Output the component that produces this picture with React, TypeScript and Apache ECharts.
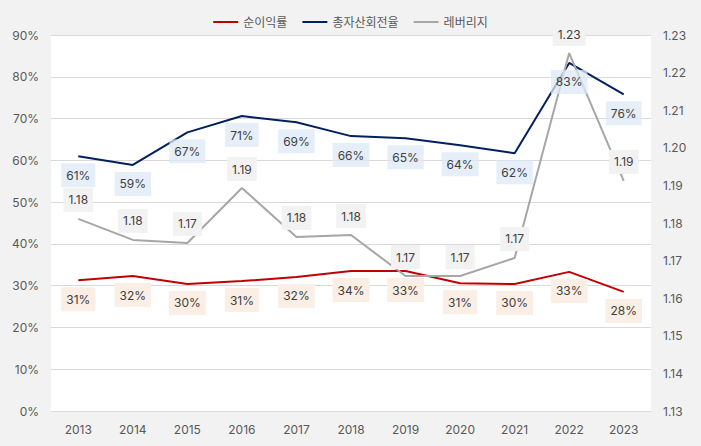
import React, { useEffect, useRef } from "react";
import * as echarts from "echarts";

const years = ["2013", "2014", "2015", "2016", "2017", "2018", "2019", "2020", "2021", "2022", "2023"];
const netMargin = [31.3, 32.3, 30.4, 31.1, 32.1, 33.5, 33.5, 30.6, 30.4, 33.3, 28.5];
const netMarginLabels = ["31%", "32%", "30%", "31%", "32%", "34%", "33%", "31%", "30%", "33%", "28%"];
const assetTurnover = [61.0, 58.9, 66.7, 70.6, 69.1, 65.8, 65.3, 63.6, 61.7, 83.3, 75.8];
const assetTurnoverLabels = ["61%", "59%", "67%", "71%", "69%", "66%", "65%", "64%", "62%", "83%", "76%"];
const leverage = [1.1811, 1.1755, 1.1747, 1.1893, 1.1763, 1.1768, 1.1659, 1.1659, 1.1707, 1.2252, 1.1912];
const leverageLabels = ["1.18", "1.18", "1.17", "1.19", "1.18", "1.18", "1.17", "1.17", "1.17", "1.23", "1.19"];

const FONT = "Inter, 'Noto Sans CJK KR', sans-serif";

export default function App() {
  const ref = useRef<HTMLDivElement>(null);
  useEffect(() => {
    if (!ref.current) return;
    const chart = echarts.init(ref.current, null, { renderer: "svg" });
    const labelBase = {
      show: true,
      fontSize: 12,
      lineHeight: 14,
      color: "#404040",
      fontFamily: FONT,
      padding: [5, 5],
      distance: 7,
    };
    chart.setOption({
      animation: false,
      backgroundColor: "#f2f2f2",
      textStyle: { fontFamily: FONT },
      legend: {
        top: 11,
        left: "center",
        itemWidth: 25,
        itemHeight: 2,
        itemGap: 15,
        icon: "rect",
        textStyle: { fontSize: 12, color: "#595959", fontFamily: FONT },
        data: ["순이익률", "총자산회전율", "레버리지"],
      },
      grid: {
        left: 51,
        right: 50,
        top: 35,
        bottom: 35,
        show: true,
        backgroundColor: "#ffffff",
        borderWidth: 0,
      },
      xAxis: {
        type: "category",
        data: years,
        boundaryGap: true,
        axisLine: { show: false },
        axisTick: { show: false },
        axisLabel: { color: "#595959", fontSize: 12, margin: 12, fontFamily: FONT },
      },
      yAxis: [
        {
          type: "value",
          min: 0,
          max: 90,
          interval: 10,
          axisLine: { show: false },
          axisTick: { show: false },
          axisLabel: { formatter: "{value}%", color: "#595959", fontSize: 12, margin: 12, fontFamily: FONT },
          splitLine: { lineStyle: { color: "#d9d9d9", width: 1 } },
        },
        {
          type: "value",
          min: 1.13,
          max: 1.23,
          interval: 0.01,
          axisLine: { show: false },
          axisTick: { show: false },
          axisLabel: {
            formatter: (v: number) => v.toFixed(2),
            color: "#595959",
            fontSize: 12,
            margin: 12,
            fontFamily: FONT,
          },
          splitLine: { show: false },
        },
      ],
      series: [
        {
          name: "순이익률",
          type: "line",
          yAxisIndex: 0,
          data: netMargin,
          symbol: "circle",
          symbolSize: 0,
          showSymbol: true,
          lineStyle: { color: "#c00000", width: 2 },
          itemStyle: { color: "#c00000" },
          label: {
            ...labelBase,
            position: "bottom",
            backgroundColor: "#fbeee4",
            formatter: (p: any) => netMarginLabels[p.dataIndex],
          },
        },
        {
          name: "총자산회전율",
          type: "line",
          yAxisIndex: 0,
          data: assetTurnover,
          symbol: "circle",
          symbolSize: 0,
          showSymbol: true,
          lineStyle: { color: "#002060", width: 2 },
          itemStyle: { color: "#002060" },
          label: {
            ...labelBase,
            position: "bottom",
            backgroundColor: "rgba(222,234,247,0.75)",
            formatter: (p: any) => assetTurnoverLabels[p.dataIndex],
          },
        },
        {
          name: "레버리지",
          type: "line",
          yAxisIndex: 1,
          data: leverage,
          symbol: "circle",
          symbolSize: 0,
          showSymbol: true,
          lineStyle: { color: "#a6a6a6", width: 2 },
          itemStyle: { color: "#a6a6a6" },
          label: {
            ...labelBase,
            position: "top",
            backgroundColor: "#f2f2f2",
            formatter: (p: any) => leverageLabels[p.dataIndex],
          },
        },
      ],
    });
    return () => chart.dispose();
  }, []);
  return <div ref={ref} style={{ width: 701, height: 446, position: "absolute", left: 0, top: 0 }} />;
}
